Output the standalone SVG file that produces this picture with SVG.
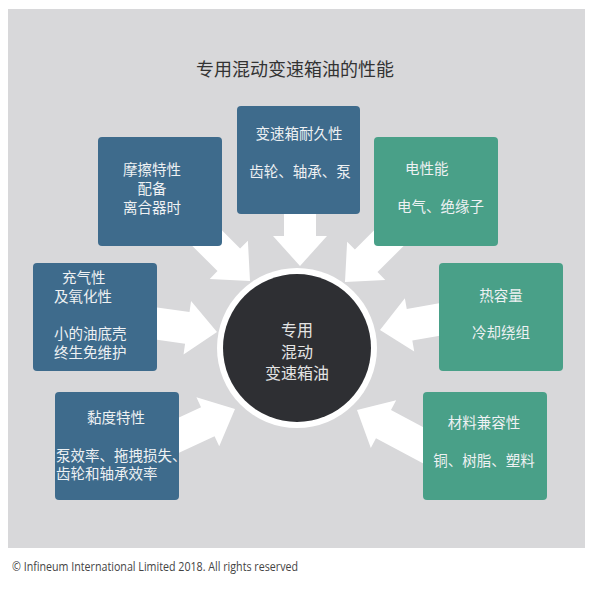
<svg xmlns="http://www.w3.org/2000/svg" width="593" height="590" viewBox="0 0 593 590">
<defs>
<style>
.bg{fill:#d8d8da}
.blue{fill:#3e6b8c}
.green{fill:#49a088}
.arrow{fill:#ffffff}
.t{font-family:"Liberation Serif","Noto Sans CJK SC",serif;font-size:14.5px;fill:#eef1f3}
.m{text-anchor:middle}
.title{font-family:"Liberation Serif","Noto Sans CJK SC",serif;font-size:18px;fill:#333333;text-anchor:middle}
.ct{font-family:"Liberation Serif","Noto Sans CJK SC",serif;font-size:16px;fill:#e4e4e4;text-anchor:middle}
.foot{font-family:"Open Sans","Liberation Sans",sans-serif;font-size:12px;fill:#444444}
</style>
<polygon id="arr" points="-90,-16 -30,-16 -30,-27 0,0 -30,27 -30,16 -90,16"/>
</defs>
<rect x="0" y="0" width="593" height="590" fill="#ffffff"/>
<rect class="bg" x="8" y="9" width="577" height="539"/>
<text class="title" x="295" y="76">专用混动变速箱油的性能</text>

<g id="connectors" class="arrow">
<use href="#arr" transform="translate(300,266) rotate(90)"/>
<use href="#arr" transform="translate(250,281) rotate(45)"/>
<use href="#arr" transform="translate(345,282) rotate(135)"/>
<use href="#arr" transform="translate(217,332) rotate(8)"/>
<use href="#arr" transform="translate(235,409) rotate(-25)"/>
<use href="#arr" transform="translate(380,330) rotate(170)"/>
<use href="#arr" transform="translate(357,410) rotate(208)"/>
</g>

<g id="center">
<circle cx="297" cy="348" r="80" fill="#ffffff"/>
<circle cx="297" cy="348" r="74" fill="#2e2f33"/>
<text class="ct" x="297" y="336">专用</text>
<text class="ct" x="297" y="358">混动</text>
<text class="ct" x="297" y="379">变速箱油</text>
</g>

<g id="friction">
<rect class="blue" x="98" y="137" width="124" height="109" rx="4"/>
<text class="t m" x="152" y="174.5">摩擦特性</text>
<text class="t m" x="152" y="193.5">配备</text>
<text class="t m" x="152" y="212.5">离合器时</text>
</g>

<g id="durability">
<rect class="blue" x="237" y="106" width="123" height="108" rx="4"/>
<text class="t m" x="299" y="138.5">变速箱耐久性</text>
<text class="t m" x="300" y="176.5">齿轮、轴承、泵</text>
</g>

<g id="electrical">
<rect class="green" x="374" y="137" width="124" height="109" rx="4"/>
<text class="t" x="405" y="173.5">电性能</text>
<text class="t" x="397" y="211.5">电气、绝缘子</text>
</g>

<g id="aeration">
<rect class="blue" x="33" y="263" width="124" height="108" rx="4"/>
<text class="t" x="62" y="282.5">充气性</text>
<text class="t" x="54" y="301.5">及氧化性</text>
<text class="t" x="54" y="338.5">小的油底壳</text>
<text class="t" x="54" y="357.5">终生免维护</text>
</g>

<g id="viscosity">
<rect class="blue" x="55" y="392" width="124" height="108" rx="4"/>
<text class="t m" x="116" y="422.5">黏度特性</text>
<text class="t" x="56" y="460.5">泵效率、拖拽损失、</text>
<text class="t" x="56" y="478.5">齿轮和轴承效率</text>
</g>

<g id="thermal">
<rect class="green" x="439" y="263" width="124" height="108" rx="4"/>
<text class="t m" x="501" y="300.5">热容量</text>
<text class="t m" x="501" y="337.5">冷却绕组</text>
</g>

<g id="materials">
<rect class="green" x="423" y="392" width="124" height="108" rx="4"/>
<text class="t m" x="484" y="427.5">材料兼容性</text>
<text class="t m" x="484" y="465.5">铜、树脂、塑料</text>
</g>

<text class="foot" x="12" y="571" textLength="286" lengthAdjust="spacingAndGlyphs">© Infineum International Limited 2018. All rights reserved</text>
</svg>
